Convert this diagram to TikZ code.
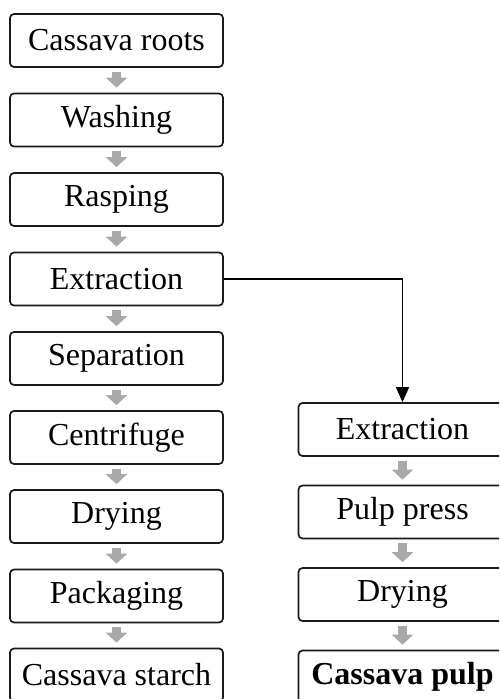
\documentclass[tikz,border=0pt]{standalone}
\usepackage{fontspec}
\setmainfont{Liberation Serif}
\usepackage{tikz}
\usetikzlibrary{arrows.meta, positioning, calc}
\definecolor{cassavablack}{HTML}{1A1A1A}
\definecolor{cassavagrey}{HTML}{A9A9A9}
\tikzset{
  stepbox/.style={draw=cassavablack, line width=0.85pt, rounded corners=2pt,
    minimum height=26.5pt, inner sep=0pt, font=\fontsize{16}{19}\selectfont},
  leftbox/.style={stepbox, minimum width=106.5pt},
  rightbox/.style={stepbox, minimum width=104pt},
  flowarrow/.style={draw=cassavagrey, line width=4.5pt,
    -{Triangle[width=10.5pt,length=5pt]}, cassavagrey},
  branch/.style={draw=black, line width=0.65pt, -{Triangle[width=6.5pt,length=7.5pt]}}
}

\begin{document}
\begin{tikzpicture}[x=0.5pt, y=-0.5pt]
      \useasboundingbox (0,0) rectangle (499,699);
      \clip (0,0) rectangle (499,699);
      % starch line
      \node[leftbox] (roots)   at (116.5,40.5)  {Cassava roots};
      \node[leftbox] (wash)    at (116.5,120)   {Washing};
      \node[leftbox] (rasp)    at (116.5,199.5) {Rasping};
      \node[leftbox] (extract) at (116.5,279)   {Extraction};
      \node[leftbox] (separ)   at (116.5,358.5) {Separation};
      \node[leftbox] (centri)  at (116.5,437.5) {Centrifuge};
      \node[leftbox] (dryS)    at (116.5,516.5) {Drying};
      \node[leftbox] (pack)    at (116.5,596)   {Packaging};
      \node[leftbox] (starch)  at (116.5,675)   {Cassava starch};
      % pulp line
      \node[rightbox] (extractP) at (402.5,429.5) {Extraction};
      \node[rightbox] (press)    at (402.5,512)   {Pulp press};
      \node[rightbox] (dryP)     at (402.5,594.5) {Drying};
      \node[rightbox] (pulp)     at (402.5,677)   {\textbf{Cassava pulp}};
      % grey arrows
      \foreach \a/\b in {roots/wash, wash/rasp, rasp/extract, extract/separ,
          separ/centri, centri/dryS, dryS/pack, pack/starch,
          extractP/press, press/dryP, dryP/pulp}
        \draw[flowarrow] ([yshift=-2pt]\a.south) -- ([yshift=2.5pt]\b.north);
      % branch to pulp
      \draw[branch] (extract.east) -| (extractP.north);
    \end{tikzpicture}
\end{document}
